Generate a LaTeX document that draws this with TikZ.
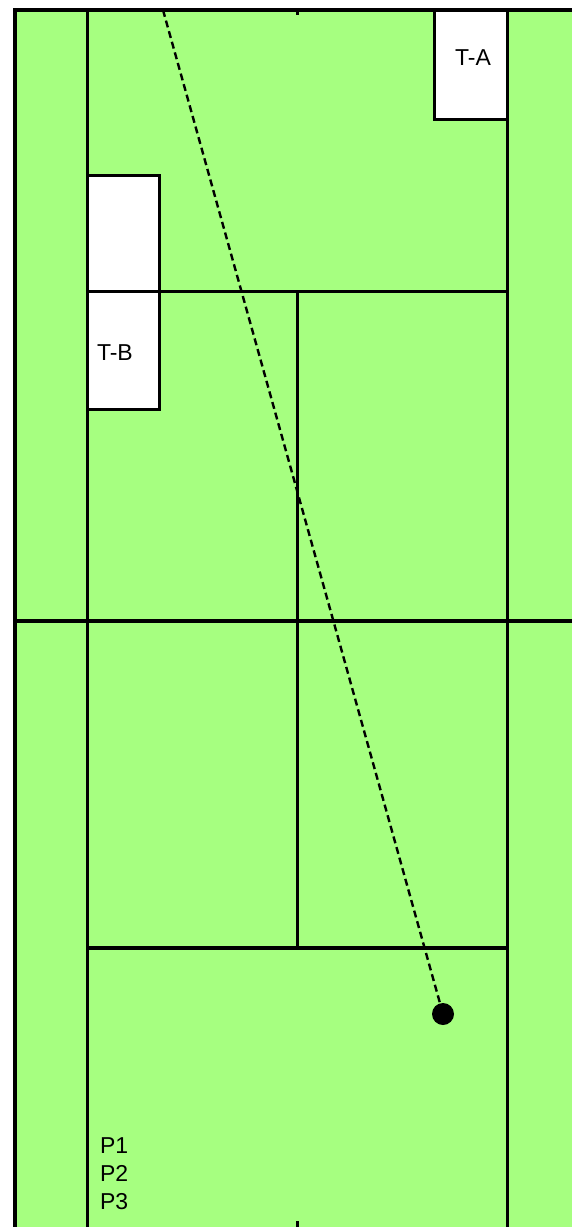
\documentclass[tikz,border=0pt]{standalone}
\usepackage{fontspec}
\setmainfont{Liberation Sans}
\definecolor{court}{RGB}{166,255,128}
\begin{document}
\begin{tikzpicture}[x=1pt,y=-1pt,
  courtline/.style={line width=3pt,black},
  box/.style={draw=black,line width=3pt,fill=white,inner sep=0pt,outer sep=0pt,anchor=north west},
  txt/.style={font=\fontsize{23}{28}\selectfont,inner sep=0pt,outer sep=0pt},
  ball/.style={circle,fill=black,inner sep=0pt,minimum size=22pt}]
\useasboundingbox (0,0) rectangle (572,1227);
\fill[white] (0,0) rectangle (572,1227);
\fill[court] (14,9) rectangle (572,1227);
% outer border
\draw[line width=3.4pt] (15,1227) -- (15,10) -- (572,10);
% singles sidelines
\draw[courtline] (87,10) -- (87,1227);
\draw[courtline] (507,10) -- (507,1227);
% service lines
\draw[courtline] (87,291) -- (507,291);
\draw[line width=3.8pt] (87,948) -- (507,948);
% center service line
\draw[courtline] (297,291) -- (297,948);
% net
\draw[line width=4.4pt] (15,621) -- (572,621);
% center marks
\draw[line width=3pt] (297,10) -- (297,15);
\draw[line width=3pt] (297,1221) -- (297,1227);
% target boxes
\node[box,minimum width=73pt,minimum height=109pt] (ta) at (434,10) {};
\node[txt] (talbl) at (473,58) {T-A};
\node[box,minimum width=72pt,minimum height=116pt] (tbu) at (87,175) {};
\node[box,minimum width=72pt,minimum height=118pt] (tb) at (87,291) {};
\node[txt,anchor=west] (tblbl) at (97,353) {T-B};
% ball and trajectory
\coordinate (start) at (163,10);
\node[ball] (ball) at (443,1014) {};
\draw[line width=2.4pt,dash pattern=on 7pt off 4pt] (start) -- (ball.center);
% player labels
\node[txt,anchor=north west,align=left] (players) at (100,1138) {P1\\P2\\P3};
\end{tikzpicture}
\end{document}
